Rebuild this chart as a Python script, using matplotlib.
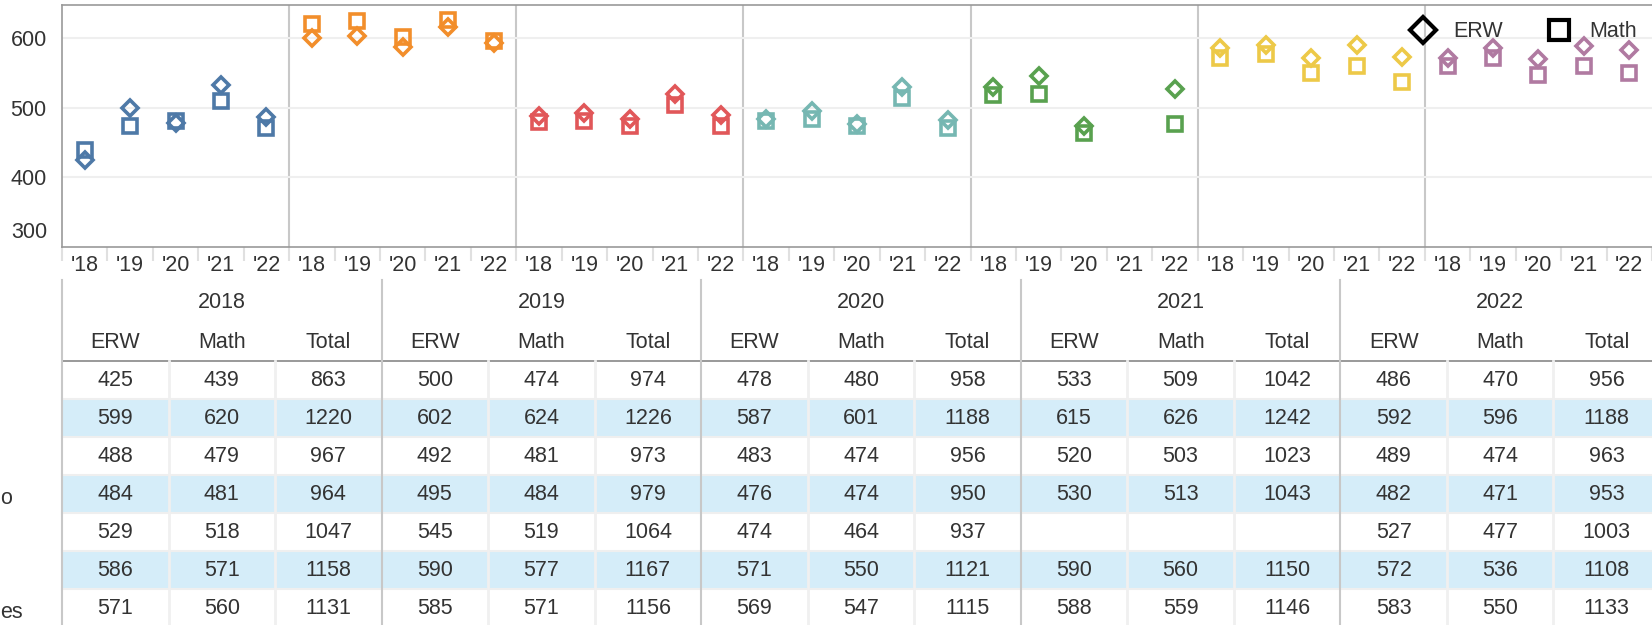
import numpy as np
import matplotlib.pyplot as plt
from matplotlib.lines import Line2D

plt.rcParams['font.family'] = ['Liberation Sans', 'DejaVu Sans']

# yearly averages per row (7 rows), None = no data
years = ['2018', '2019', '2020', '2021', '2022']
year_ticks = ["'18", "'19", "'20", "'21", "'22"]
erw = {
    '2018': [425, 599, 488, 484, 529, 586, 571],
    '2019': [500, 602, 492, 495, 545, 590, 585],
    '2020': [478, 587, 483, 476, 474, 571, 569],
    '2021': [533, 615, 520, 530, None, 590, 588],
    '2022': [486, 592, 489, 482, 527, 572, 583],
}
math = {
    '2018': [439, 620, 479, 481, 518, 571, 560],
    '2019': [474, 624, 481, 484, 519, 577, 571],
    '2020': [480, 601, 474, 474, 464, 550, 547],
    '2021': [509, 626, 503, 513, None, 560, 559],
    '2022': [470, 596, 474, 471, 477, 536, 550],
}
total = {
    '2018': [863, 1220, 967, 964, 1047, 1158, 1131],
    '2019': [974, 1226, 973, 979, 1064, 1167, 1156],
    '2020': [958, 1188, 956, 950, 937, 1121, 1115],
    '2021': [1042, 1242, 1023, 1043, None, 1150, 1146],
    '2022': [956, 1188, 963, 953, 1003, 1108, 1133],
}
row_labels = ['', '', '', 'o', '', '', 'es']  # cut off at left edge
colors = ['#4E79A7', '#F28E2B', '#E15759', '#76B7B2', '#59A14F', '#EDC948', '#B07AA1']

W, H = 1652, 625
fs = 15.5
fig = plt.figure(figsize=(W / 100, H / 100), dpi=100)
txt = '#333333'

# ---------- top dot chart ----------
x0, x1, ytop, ybot = 62, 1652, 5, 247
ax = fig.add_axes([x0 / W, 1 - ybot / H, (x1 - x0) / W, (ybot - ytop) / H])
n_rows = len(colors)
for g in range(n_rows):
    for j, yr in enumerate(years):
        xp = g * 5 + j
        if math[yr][g] is not None:
            ax.plot(xp, math[yr][g], marker='s', ms=10, mfc='none', mec=colors[g], mew=2.6, zorder=3)
        if erw[yr][g] is not None:
            ax.plot(xp, erw[yr][g], marker='D', ms=8, mfc='none', mec=colors[g], mew=2.6, zorder=4)
for g in range(1, n_rows):
    ax.axvline(g * 5 - 0.5, color='#c8c8c8', lw=1.5, zorder=1)
ax.set_xlim(-0.5, n_rows * 5 - 0.5)
ax.set_ylim(300, 647)
ax.set_yticks([400, 500, 600])
ax.grid(axis='y', color='#efefef', lw=1.5, zorder=0)
ax.set_xticks(np.arange(n_rows * 5))
ax.set_xticklabels(year_ticks * n_rows, fontsize=fs, color=txt)
ax.set_xticks(np.arange(n_rows * 5 + 1) - 0.5, minor=True)
ax.tick_params(axis='x', which='major', length=0, pad=6)
ax.tick_params(axis='x', which='minor', length=10, color='#e0e0e0', width=1.5)
ax.tick_params(axis='y', length=0, labelsize=fs, labelcolor=txt, pad=11)
for s in ['top', 'left', 'bottom']:
    ax.spines[s].set_color('#999999')
    ax.spines[s].set_linewidth(1.2)
ax.spines['right'].set_visible(False)

# legend
ax.legend(handles=[
    Line2D([], [], marker='D', ms=13, mfc='none', mec='black', mew=3, ls='none', label='ERW'),
    Line2D([], [], marker='s', ms=15, mfc='none', mec='black', mew=3, ls='none', label='Math'),
], loc='upper right', bbox_to_anchor=(1.0, 0.995), ncol=2, frameon=False, fontsize=fs,
    handletextpad=0.4, columnspacing=1.6, borderaxespad=0.3, labelcolor=txt)

# ---------- table ----------
tb = fig.add_axes([0, 0, 1, 1])
tb.set_xlim(0, W)
tb.set_ylim(H, 0)
tb.axis('off')
# bottom y label sits above the axis line
tb.text(47, 233, '300', ha='right', va='center', fontsize=fs, color=txt)
grp_w = 319.6
col_w = grp_w / 3
row_top = 361
row_h = 38
for r in range(n_rows):
    y = row_top + r * row_h
    if r % 2 == 1:
        tb.fill_between([x0, W], y + 1, y + row_h - 1, color='#d5edf9', lw=0)
    if r > 0:
        tb.plot([x0, W], [y, y], color='#efefef', lw=1.5)
    if row_labels[r]:
        tb.text(0, y + row_h / 2 + 5, row_labels[r], ha='left', va='center', fontsize=fs, color=txt)
tb.plot([x0, W], [row_top, row_top], color='#888888', lw=1.2)
for k, yr in enumerate(years):
    gx = x0 + k * grp_w
    tb.plot([gx, gx], [280, H], color='#c8c8c8', lw=1.5, zorder=3)
    for c in (1, 2):
        tb.plot([gx + c * col_w] * 2, [row_top, H], color='#f0f0f0', lw=2, zorder=2)
    tb.text(gx + grp_w / 2, 302, yr, ha='center', va='center', fontsize=fs, color=txt)
    for c, (name, vals) in enumerate([('ERW', erw[yr]), ('Math', math[yr]), ('Total', total[yr])]):
        cx = gx + col_w * (c + 0.5)
        tb.text(cx, 342, name, ha='center', va='center', fontsize=fs, color=txt)
        for r, v in enumerate(vals):
            if v is not None:
                tb.text(cx, row_top + r * row_h + row_h / 2, str(v), ha='center', va='center',
                        fontsize=fs, color=txt, zorder=4)

fig.savefig('out.png', dpi=100)
